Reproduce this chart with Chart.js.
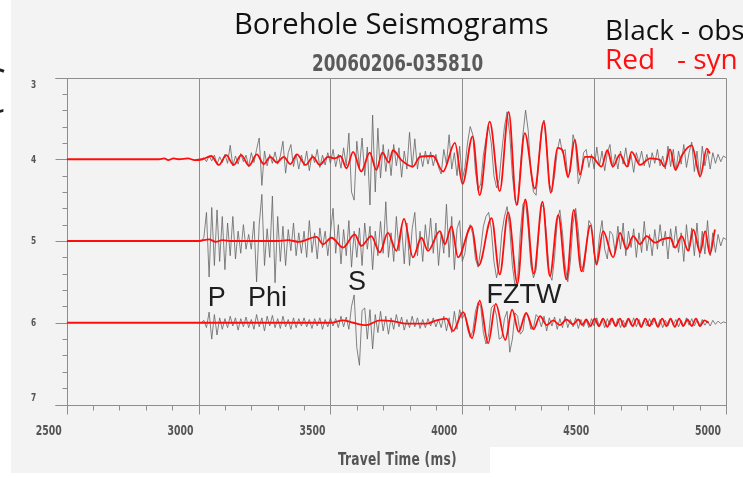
<!DOCTYPE html>
<html>
<head>
<meta charset="utf-8">
<title>Borehole Seismograms</title>
<script src="https://cdn.jsdelivr.net/npm/chart.js@4.4.0/dist/chart.umd.min.js"></script>
<style>
  html, body { margin: 0; padding: 0; background: #fff; }
  #wrap { position: relative; width: 743px; height: 478px; overflow: hidden; background: #fff; }
  #paper { position: absolute; left: 11px; top: 0; width: 732px; height: 473px; background: #f3f3f3; }
  #patch { position: absolute; left: 490px; top: 447px; width: 253px; height: 31px; background: #fff; }
  canvas { position: absolute; left: 0; top: 0; }
  .t { position: absolute; white-space: pre; line-height: 1; transform-origin: 0 0; }
  #title { left: 234px; top: 3px; font: 400 29.2px "Open Sans", "Noto Sans", sans-serif; color: #111; }
  #legObs { left: 605px; top: 10px; font: 400 28px "Open Sans", "Noto Sans", sans-serif; color: #111; }
  #legSyn { left: 605px; top: 39px; font: 400 28px "Open Sans", "Noto Sans", sans-serif; color: #ff1010; }
  #sub { left: 312px; top: 50px; font: 700 23px "DejaVu Sans Condensed", sans-serif; color: #5a5a5a; transform: scaleX(0.815); }
  #xTitle { left: 338px; top: 449px; font: 700 17px "DejaVu Sans Condensed", sans-serif; letter-spacing: 0.3px; color: #555; transform: scaleX(0.8); }
  #panel { left: -32px; top: 47px; font: 300 62px "Open Sans", sans-serif; color: #222; }
</style>
</head>
<body>
<div id="wrap">
  <div id="paper"></div>
  <div id="patch"></div>
  <canvas id="c" width="743" height="478"></canvas>
  <div class="t" id="panel">C</div>
  <div class="t" id="title">Borehole Seismograms</div>
  <div class="t" id="sub">20060206-035810</div>
  <div class="t" id="legObs">Black - obs</div>
  <div class="t" id="legSyn">Red   - syn</div>
  <div class="t" id="xTitle">Travel Time (ms)</div>
</div>
<script>
// Axis ranges and tick labels
const X_MIN = 2500, X_MAX = 5000;
const Y_MIN = 3, Y_MAX = 7;
const xTickLabels = [2500, 3000, 3500, 4000, 4500, 5000];
const yTickLabels = [3, 4, 5, 6, 7];

// Trace baselines (station depth levels)
const traceLevels = [4, 5, 6];

// Amplitudes are stored in hundredths of one trace spacing, positive = up
const AMP_UNIT = 0.01;

// Observed records: uniform sampling from OBS_START
const OBS_START = 3000;
const SAMPLE_MS = 10;

const obs4 = [
  0, 0, 2, -3, 4, -2, 5, -6, 3, -4,
  6, -5, 17, -8, 4, -6, 7, -3, 5, -9,
  8, -4, 12, 26, -32, 10, -8, 6, -5, 9,
  -6, 4, 22, -17, 8, 18, -9, 6, -12, 5,
  -8, 10, -14, 6, -4, 12, -10, 5, -7, 8,
  -5, 12, -9, 6, -11, 14, -8, 32, -40, -50,
  22, -10, 26, -20, 15, -56, 54, -40, 38, -23,
  18, -15, 12, -20, 18, -8, 14, -22, 10, -12,
  33, -10, 25, -12, 8, -9, 10, -6, 9, -8,
  6, -10, -18, 12, -6, 30, -12, 8, -20, 16,
  -25, -10, 20, 40, 30, -15, -38, -30, 5, 25,
  40, 20, -20, -35, -25, 10, 40, 58, 30, -20,
  -50, -56, -10, 30, 60, 35, -15, -40, -44, 0,
  35, 48, 15, -30, -40, -20, 10, 25, 8, 12,
  -22, -15, 30, 18, -30, -20, 8, 12, -10, 6,
  -12, 15, -8, 10, -14, 8, 18, -10, 6, -12,
  10, -6, 14, -9, 5, -16, 8, -4, 10, -8,
  6, -10, 8, -5, 12, -8, 4, -12, 16, -9,
  12, -14, 10, -6, 18, -10, 8, 21, -15, 10,
  -22, 16, -8, 10, -12, 8, -5, 6, -3, 4,
  2
];

const obs5 = [
  0, 0, 4, 35, -44, 41, -30, 38, -25, 30,
  -35, 22, -18, 30, -22, 12, -15, 20, -10, 8,
  -10, 24, -50, 20, 57, -30, 15, -20, 55, -51,
  30, -25, 18, -30, 14, -12, 22, -18, 10, -15,
  12, -20, 25, -14, 10, -22, 16, -8, 12, -18,
  10, 40, -15, 20, -28, 14, -18, 25, -32, 12,
  -20, 16, -30, 22, -10, 18, -35, 12, -18, 24,
  -15, 48, -20, 10, -25, 30, -12, 18, -28, 22,
  -30, 15, 35, -18, 12, -25, 20, -10, 28, -15,
  22, -30, 10, -15, 45, -20, 30, -35, 15, 25,
  -25, -15, 12, 20, 8, -22, -32, -10, 18, 30,
  35, 15, -25, -45, -30, 10, 30, 42, 15, -30,
  -55, -45, 10, 45, 50, 15, -30, -45, -35, 10,
  45, 40, 5, -40, -48, -20, 25, 38, 10, -30,
  -50, -25, 22, 40, 12, -30, -38, -10, 25, 20,
  -15, -28, 5, 25, -10, -22, 12, 8, -15, 18,
  -10, 22, -18, 12, -8, 15, -20, 10, -14, 24,
  -12, 8, -18, 14, -10, 20, -6, 12, -22, 15,
  -8, 18, -14, 10, -25, 20, -12, 16, -18, 22,
  -20, 12, -16, 25, -18, 10, -14, 8, -6, 4,
  2
];

const obs6 = [
  0, 0, 3, -6, 13, -20, 10, -15, 6, -8,
  5, -6, 8, -4, 6, -9, 5, -5, 7, -6,
  4, -8, 10, -5, 6, -10, 8, -4, 9, -6,
  5, -7, 8, -5, 4, -8, 6, -6, 5, -4,
  6, -5, 4, -7, 5, -4, 6, -8, 4, -5,
  6, -4, 5, -6, 8, -5, 7, -8, 20, 34,
  -30, -52, 15, 18, -20, 16, -32, 10, -12, 14,
  -10, 8, -14, 6, -8, 10, -5, 7, -9, 4,
  -6, 8, -5, 6, -7, 4, -6, 5, -4, 6,
  -5, 4, -6, 8, -10, 6, -12, 14, -8, 16,
  5, 12, -8, -18, -10, 14, 25, 20, -12, -26,
  -15, 18, 22, 8, -20, -18, 5, 14, -36, -20,
  12, 8, -14, -10, 12, 8, -8, -6, 10, 6,
  -5, 8, -10, 6, -4, 7, -8, 5, -6, 8,
  -6, 4, -5, 6, -7, 4, -5, 3, -6, 5,
  -4, 6, -5, 4, -6, 5, -3, 6, -4, 5,
  -6, 3, -5, 4, -3, 6, -5, 4, -6, 3,
  -4, 5, -3, 6, -5, 4, -6, 3, -4, 5,
  -3, 4, -5, 3, -4, 6, -3, 5, -4, 3,
  -5, 4, -3, 2, -4, 3, -2, 2, -1, 1,
  0
];

// Synthetic waveforms: [time ms, amplitude] at turning points
const syn4 = [
  [2500, 0], [2850, 0], [2870, 1], [2885, -1], [2905, 1], [2925, 0], [2960, 1], [2985, -1], [3015, 0],
  [3048, 4], [3077, -7], [3105, 5], [3133, -7], [3162, 5], [3191, -8], [3221, 6], [3247, -6],
  [3272, 3], [3297, -4], [3323, 3], [3348, -6], [3373, 6], [3406, -7], [3434, 3], [3459, -7],
  [3491, 3], [3516, 1], [3538, 4], [3561, -11], [3586, 9], [3617, -15], [3649, 8], [3674, -13],
  [3697, 8], [3722, -4], [3737, 11], [3769, -1], [3813, -9], [3839, 3], [3889, 4], [3927, -15],
  [3972, 20], [4001, -30], [4039, 28], [4066, -44], [4104, 46], [4142, -39], [4176, 58], [4206, -56],
  [4237, 32], [4275, -36], [4309, 46], [4336, -41], [4361, 14], [4380, 11], [4401, -22], [4427, 24],
  [4446, -19], [4465, 3], [4491, 3], [4528, -9], [4550, 11], [4571, -9], [4598, 6], [4625, -9],
  [4642, 9], [4674, -7], [4712, 1], [4750, -1], [4767, -9], [4788, 12], [4808, -13], [4833, 5],
  [4870, 17], [4902, -21], [4927, 13], [4939, 7]
];

const syn5 = [
  [2500, 0], [3000, 0], [3040, 2], [3065, -1], [3090, 1], [3120, 0], [3300, 0], [3340, 1], [3380, -1],
  [3447, 5], [3472, -4], [3504, 4], [3548, -8], [3592, 8], [3617, -6], [3655, 6], [3687, -14],
  [3718, 10], [3750, -12], [3779, 27], [3813, -20], [3845, 4], [3870, -12], [3915, 12], [3934, -4],
  [3959, 18], [3984, -20], [4035, 18], [4062, -30], [4111, 28], [4142, -41], [4174, 35], [4209, -52],
  [4239, 51], [4271, -40], [4304, 48], [4332, -43], [4364, 32], [4395, -47], [4423, 38], [4452, -37],
  [4486, 19], [4509, -29], [4534, 12], [4572, -20], [4598, 10], [4623, -10], [4648, 6], [4674, -4],
  [4699, 6], [4731, -2], [4757, 2], [4788, 4], [4807, -8], [4832, 6], [4857, -12], [4876, 14],
  [4902, -14], [4921, 12], [4939, -16], [4958, 14]
];

const syn6 = [
  [2500, 0], [3500, 0], [3548, 3], [3586, 0], [3636, -3], [3687, 3], [3737, 2], [3788, -1],
  [3864, -1], [3902, 3], [3940, 5], [3965, -10], [4003, 13], [4037, -19], [4066, 27], [4098, -25],
  [4127, 23], [4163, -21], [4189, 16], [4214, -11], [4242, 12], [4270, -8], [4295, 8], [4320, -3],
  [4345, 3], [4370, -3], [4395, 4], [4420, -2], [4440, 4], [4455, -3], [4470, 4], [4486, -4],
  [4502, 5], [4518, -4], [4534, 5], [4550, -5], [4566, 5], [4582, -4], [4598, 5], [4614, -5],
  [4630, 5], [4646, -4], [4662, 5], [4678, -5], [4694, 5], [4710, -4], [4726, 5], [4742, -5],
  [4758, 5], [4774, -4], [4790, 5], [4806, -5], [4822, 5], [4838, -4], [4854, 4], [4870, -4],
  [4886, 5], [4902, -4], [4918, 3], [4934, 0]
];

// Phase picks written on the plot: [label, time ms, level]
const phaseLabels = [
  ['P', 3035, 5.80],
  ['Phi', 3187, 5.80],
  ['S', 3567, 5.60],
  ['FZTW', 4092, 5.76]
];

const OBS_COLOR = 'rgba(100, 100, 100, 0.8)';
const SYN_COLOR = '#ff0d0d';
const AXIS_COLOR = '#8e8e8e';
const LABEL_FONT = '"DejaVu Sans Condensed", sans-serif';

function observed(level, values) {
  return values.map((v, i) => ({ x: OBS_START + i * SAMPLE_MS, y: level - v * AMP_UNIT }));
}
function synthetic(level, pairs) {
  return pairs.map(([t, v]) => ({ x: t, y: level - v * AMP_UNIT }));
}

const obsSets = [obs4, obs5, obs6];
const synSets = [syn4, syn5, syn6];

const datasets = [];
traceLevels.forEach((level, k) => {
  datasets.push({
    label: 'syn ' + level,
    data: synthetic(level, synSets[k]),
    borderColor: SYN_COLOR,
    borderWidth: 1.8,
    cubicInterpolationMode: 'monotone',
    order: 0
  });
});
traceLevels.forEach((level, k) => {
  datasets.push({
    label: 'obs ' + level,
    data: observed(level, obsSets[k]),
    borderColor: OBS_COLOR,
    borderWidth: 1,
    tension: 0,
    order: 1
  });
});

// narrow bold labels, drawn squeezed horizontally
function narrowText(ctx, txt, cx, cy, sx) {
  ctx.save();
  ctx.translate(cx, cy);
  ctx.scale(sx, 1);
  ctx.fillText(txt, 0, 0);
  ctx.restore();
}

// Frame, ticks and tick labels in the style of the seismic plotting package
const framePlugin = {
  id: 'frame',
  beforeDatasetsDraw(chart) {
    const { ctx, scales: { x, y } } = chart;
    const left = Math.round(x.getPixelForValue(X_MIN)) + 0.5;
    const right = Math.round(x.getPixelForValue(X_MAX)) + 0.5;
    const top = Math.round(y.getPixelForValue(Y_MIN)) + 0.5;
    const bottom = Math.round(y.getPixelForValue(Y_MAX)) + 0.5;
    ctx.save();
    ctx.strokeStyle = AXIS_COLOR;
    ctx.lineWidth = 1;
    ctx.beginPath();
    // top and bottom rules reach out to the major y ticks
    ctx.moveTo(left - 12, top); ctx.lineTo(right, top);
    ctx.moveTo(left - 12, bottom); ctx.lineTo(right, bottom);
    ctx.stroke();
    // vertical lines every 500 ms, x ticks every 100 ms
    x.ticks.forEach(tk => {
      const v = tk.value;
      const px = Math.round(x.getPixelForValue(v)) + 0.5;
      const major = Math.abs(v % 500) < 1e-6;
      ctx.beginPath();
      if (major) {
        ctx.moveTo(px, top); ctx.lineTo(px, bottom + 9);
      } else {
        ctx.moveTo(px, bottom); ctx.lineTo(px, bottom + 5);
      }
      ctx.stroke();
    });
    // y ticks every 0.2
    y.ticks.forEach(tk => {
      const v = tk.value;
      const py = Math.round(y.getPixelForValue(v)) + 0.5;
      const major = Math.abs(v - Math.round(v)) < 1e-6;
      ctx.beginPath();
      ctx.moveTo(left - (major ? 12 : 5), py); ctx.lineTo(left, py);
      ctx.stroke();
    });
    ctx.restore();
  },
  afterDatasetsDraw(chart) {
    const { ctx, scales: { x, y } } = chart;
    const bottom = y.getPixelForValue(Y_MAX);
    ctx.save();
    ctx.fillStyle = '#555';
    ctx.textBaseline = 'middle';
    ctx.textAlign = 'center';
    ctx.font = '700 14px ' + LABEL_FONT;
    xTickLabels.forEach(v => {
      narrowText(ctx, String(v), x.getPixelForValue(v) - 18, bottom + 26.5, 0.74);
    });
    ctx.font = '700 11px ' + LABEL_FONT;
    yTickLabels.forEach(v => {
      let py = y.getPixelForValue(v);
      if (v === Y_MIN) py += 7.5;
      else if (v === Y_MAX) py -= 6.5;
      narrowText(ctx, String(v), 33.5, py + 0.5, 0.75);
    });
    // phase names
    ctx.fillStyle = '#1e1e1e';
    ctx.textAlign = 'left';
    ctx.textBaseline = 'alphabetic';
    ctx.font = '400 27px "Liberation Sans", Arial, sans-serif';
    phaseLabels.forEach(([txt, t, lvl]) => {
      ctx.fillText(txt, x.getPixelForValue(t), y.getPixelForValue(lvl));
    });
    ctx.restore();
  }
};

new Chart(document.getElementById('c'), {
  type: 'line',
  data: { datasets },
  options: {
    responsive: false,
    animation: false,
    devicePixelRatio: 1,
    layout: { padding: { left: 0, right: 17, top: 77.5, bottom: 0 } },
    elements: { point: { radius: 0 }, line: { borderJoinStyle: 'round' } },
    plugins: { legend: { display: false }, tooltip: { enabled: false }, title: { display: false } },
    scales: {
      x: {
        type: 'linear', min: X_MIN, max: X_MAX,
        ticks: { stepSize: 100, display: false },
        grid: { display: false, drawTicks: false },
        border: { display: false },
        afterFit(s) { s.height = 73.5; }
      },
      y: {
        type: 'linear', reverse: true, min: Y_MIN, max: Y_MAX,
        ticks: { stepSize: 0.2, display: false },
        grid: { display: false, drawTicks: false },
        border: { display: false },
        afterFit(s) { s.width = 66.7; }
      }
    }
  },
  plugins: [framePlugin]
});
</script>
</body>
</html>
